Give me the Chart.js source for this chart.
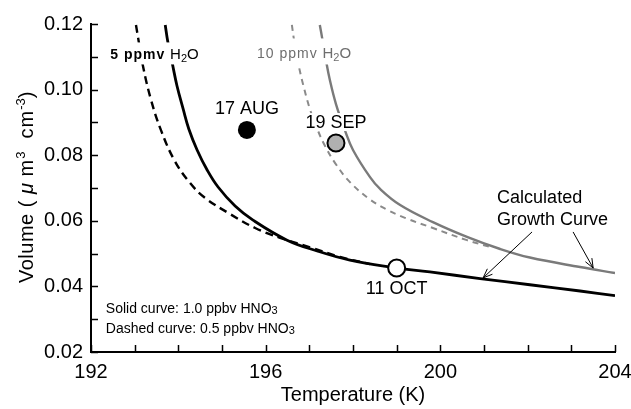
<!DOCTYPE html>
<html>
<head>
<meta charset="utf-8">
<script src="https://cdn.jsdelivr.net/npm/chart.js@4.4.0/dist/chart.umd.min.js"></script>
<style>
  html, body { margin: 0; padding: 0; background: #fff; }
  #wrap { position: relative; width: 631px; height: 409px; }
</style>
</head>
<body>
<div id="wrap"><canvas id="myChart"></canvas></div>
<script>
/* global Chart */

const FONT = 'Arial, "Liberation Sans", Helvetica, sans-serif';

// 5 ppmv H2O, 1.0 ppbv HNO3 (solid black)
const temp5Solid = [193.70, 193.76, 193.86, 193.97, 194.11, 194.24, 194.43, 194.66, 194.91, 195.30, 195.71, 196.49, 197.18, 197.93, 198.85, 199.76, 200.91, 202.05, 203.20, 204.00];
const vol5Solid = [0.1197, 0.1145, 0.1081, 0.1011, 0.0941, 0.0880, 0.0816, 0.0755, 0.0703, 0.0645, 0.0602, 0.0541, 0.0508, 0.0480, 0.0459, 0.0444, 0.0424, 0.0405, 0.0386, 0.0372];

// 5 ppmv H2O, 0.5 ppbv HNO3 (dashed black)
const temp5Dashed = [193.03, 193.08, 193.19, 193.37, 193.60, 193.92, 194.27, 194.61, 195.18, 195.76, 196.33, 197.02, 197.70, 198.39];
const vol5Dashed = [0.1197, 0.1157, 0.1072, 0.0971, 0.0877, 0.0782, 0.0715, 0.0670, 0.0621, 0.0578, 0.0548, 0.0519, 0.0490, 0.0468];

// 10 ppmv H2O, 1.0 ppbv HNO3 (solid gray)
const temp10Solid = [197.24, 197.29, 197.38, 197.47, 197.61, 197.82, 198.00, 198.39, 198.62, 199.08, 199.83, 200.61, 201.37, 202.05, 203.20, 204.00];
const vol10Solid = [0.1197, 0.1160, 0.1090, 0.1029, 0.0956, 0.0874, 0.0816, 0.0733, 0.0697, 0.0648, 0.0596, 0.0551, 0.0514, 0.0488, 0.0459, 0.0441];

// 10 ppmv H2O, 0.5 ppbv HNO3 (dashed gray)
const temp10Dashed = [196.60, 196.65, 196.74, 196.86, 197.02, 197.20, 197.36, 197.59, 197.93, 198.39, 198.78, 199.19, 199.83, 200.61, 201.14];
const vol10Dashed = [0.1197, 0.1151, 0.1084, 0.1014, 0.0938, 0.0874, 0.0828, 0.0776, 0.0718, 0.0665, 0.0634, 0.0609, 0.0578, 0.0541, 0.0520];

// observations
const obsLabels = ['17 AUG', '19 SEP', '11 OCT'];
const obsTemp = [195.57, 197.61, 199.00];
const obsVol = [0.0877, 0.0837, 0.0456];

const xTickLabels = [192, 196, 200, 204];
const yTickLabels = [0.02, 0.04, 0.06, 0.08, 0.10, 0.12];

function toPoints(ts, vs) {
  return ts.map(function(t, i) { return {x: t, y: vs[i]}; });
}

function curve(ts, vs, color, width, dash) {
  return {
    data: toPoints(ts, vs),
    showLine: true,
    borderColor: color,
    borderWidth: width,
    borderDash: dash,
    pointRadius: 0,
    tension: 0.4,
    fill: false
  };
}

/* annotations drawn on top of the data */

function drawParts(ctx, parts, x, y, color, box) {
  let w = 0;
  parts.forEach(function(p) {
    ctx.font = p.font;
    ctx.letterSpacing = p.ls || '0px';
    w += ctx.measureText(p.text).width;
  });
  if (box) {
    ctx.fillStyle = '#fff';
    ctx.fillRect(x - 3, y - box[0], w + 6, box[0] + box[1]);
  }
  ctx.fillStyle = color;
  ctx.textAlign = 'left';
  ctx.textBaseline = 'alphabetic';
  parts.forEach(function(p) {
    ctx.font = p.font;
    ctx.letterSpacing = p.ls || '0px';
    ctx.fillText(p.text, x, y + (p.dy || 0));
    x += ctx.measureText(p.text).width;
  });
  ctx.letterSpacing = '0px';
}

function arrow(ctx, x0, y0, x1, y1) {
  const a = Math.atan2(y1 - y0, x1 - x0);
  const len = 10, spread = 0.38;
  ctx.beginPath();
  ctx.moveTo(x0, y0);
  ctx.lineTo(x1, y1);
  ctx.moveTo(x1 - len * Math.cos(a - spread), y1 - len * Math.sin(a - spread));
  ctx.lineTo(x1, y1);
  ctx.lineTo(x1 - len * Math.cos(a + spread), y1 - len * Math.sin(a + spread));
  ctx.stroke();
}

const annotate = {
  id: 'annotate',
  afterDatasetsDraw(chart) {
    const {ctx, chartArea, scales: {x, y}} = chart;
    ctx.save();

    // curve family labels
    drawParts(ctx, [
      {text: '5 ppmv ', font: 'bold 14px ' + FONT, ls: '1px'},
      {text: 'H', font: '15px ' + FONT},
      {text: '2', font: '11px ' + FONT, dy: 3},
      {text: 'O', font: '15px ' + FONT}
    ], x.getPixelForValue(192.44), y.getPixelForValue(0.1092), '#000', [17, 5]);
    drawParts(ctx, [
      {text: '10 ppmv ', font: '14px ' + FONT, ls: '1px'},
      {text: 'H', font: '15px ' + FONT},
      {text: '2', font: '11px ' + FONT, dy: 3},
      {text: 'O', font: '15px ' + FONT}
    ], x.getPixelForValue(195.80), y.getPixelForValue(0.1095), '#6e6e6e', [20, 6]);

    // observation labels
    ctx.font = '18px ' + FONT;
    ctx.textAlign = 'center';
    ctx.textBaseline = 'middle';
    const offsets = [-22, -21, 20];
    obsLabels.forEach(function(lbl, i) {
      const px = x.getPixelForValue(obsTemp[i]);
      const py = y.getPixelForValue(obsVol[i]) + offsets[i];
      const w = ctx.measureText(lbl).width;
      ctx.fillStyle = '#fff';
      ctx.fillRect(px - w / 2 - 2, py - 9, w + 4, 18);
      ctx.fillStyle = '#000';
      ctx.fillText(lbl, px, py + 1);
    });

    // calculated growth curve note
    ctx.textAlign = 'left';
    ctx.fillText('Calculated', x.getPixelForValue(201.30), y.getPixelForValue(0.0670));
    ctx.fillText('Growth Curve', x.getPixelForValue(201.30), y.getPixelForValue(0.0602));
    ctx.strokeStyle = '#000';
    ctx.lineWidth = 1;
    arrow(ctx, x.getPixelForValue(202.10), y.getPixelForValue(0.0566), x.getPixelForValue(200.98), y.getPixelForValue(0.0426));
    arrow(ctx, x.getPixelForValue(203.04), y.getPixelForValue(0.0566), x.getPixelForValue(203.50), y.getPixelForValue(0.0456));

    // key for line styles
    const kx = x.getPixelForValue(192.34);
    drawParts(ctx, [
      {text: 'Solid curve: 1.0 ppbv HNO', font: '14px ' + FONT},
      {text: '3', font: '11px ' + FONT, dy: 1}
    ], kx, y.getPixelForValue(0.0334) + 5, '#000');
    drawParts(ctx, [
      {text: 'Dashed curve: 0.5 ppbv HNO', font: '14px ' + FONT},
      {text: '3', font: '11px ' + FONT, dy: 1}
    ], kx, y.getPixelForValue(0.0273) + 5, '#000');

    // inward tick marks
    ctx.strokeStyle = '#000';
    ctx.lineWidth = 1.5;
    ctx.beginPath();
    x.ticks.forEach(function(t) {
      const px = Math.round(x.getPixelForValue(t.value)) + 0.5;
      ctx.moveTo(px, chartArea.bottom);
      ctx.lineTo(px, chartArea.bottom - 7);
    });
    y.ticks.forEach(function(t) {
      const py = Math.round(y.getPixelForValue(t.value)) + 0.5;
      ctx.moveTo(chartArea.left, py);
      ctx.lineTo(chartArea.left + 7, py);
    });
    ctx.stroke();

    // axis titles
    ctx.fillStyle = '#000';
    ctx.font = '20px ' + FONT;
    ctx.textAlign = 'center';
    ctx.textBaseline = 'alphabetic';
    ctx.fillText('Temperature (K)', (chartArea.left + chartArea.right) / 2, 401);

    ctx.translate(33, 283);
    ctx.rotate(-Math.PI / 2);
    drawParts(ctx, [
      {text: 'Volume ( ', font: '20px ' + FONT, ls: '0.5px'},
      {text: 'μ', font: 'italic 20px ' + FONT},
      {text: ' m', font: '20px ' + FONT, ls: '1px'},
      {text: '3', font: '13px ' + FONT, dy: -8},
      {text: '  cm', font: '20px ' + FONT, ls: '1px'},
      {text: '-3', font: '13px ' + FONT, dy: -8},
      {text: ')', font: '20px ' + FONT}
    ], 0, 0, '#000');

    ctx.restore();
  }
};

const ctx = document.getElementById('myChart').getContext('2d');

const chart = new Chart(ctx, {
  type: 'scatter',
  data: {
    datasets: [
      {
        data: toPoints(obsTemp, obsVol),
        pointRadius: [9, 8.5, 8.5],
        pointBackgroundColor: ['#000', '#b0b0b0', '#fff'],
        pointBorderColor: '#000',
        pointBorderWidth: [0, 2, 2],
        showLine: false
      },
      curve(temp5Solid, vol5Solid, '#000', 2.8, []),
      curve(temp5Dashed, vol5Dashed, '#000', 2.4, [8, 5]),
      curve(temp10Solid, vol10Solid, '#7a7a7a', 2.4, []),
      curve(temp10Dashed, vol10Dashed, '#8a8a8a', 2, [6, 5])
    ]
  },
  options: {
    responsive: true,
    maintainAspectRatio: false,
    animation: false,
    events: [],
    layout: { padding: { top: 24, right: 16, bottom: 0, left: 0 } },
    plugins: {
      legend: { display: false },
      tooltip: { enabled: false }
    },
    scales: {
      x: {
        type: 'linear',
        min: 192,
        max: 204,
        afterFit: function(scale) {
          scale.height = 57;
          scale.paddingLeft = 0;
          scale.paddingRight = 0;
        },
        grid: { display: true, drawOnChartArea: false, drawTicks: false },
        border: { display: true, color: '#000', width: 2 },
        ticks: {
          stepSize: 1,
          autoSkip: false,
          maxRotation: 0,
          padding: 8,
          color: '#000',
          font: { family: FONT, size: 20 },
          callback: function(v) { return xTickLabels.indexOf(v) >= 0 ? String(v) : ''; }
        }
      },
      y: {
        type: 'linear',
        min: 0.02,
        max: 0.12,
        afterFit: function(scale) { scale.width = 91; },
        grid: { display: true, drawOnChartArea: false, drawTicks: false },
        border: { display: true, color: '#000', width: 2 },
        ticks: {
          stepSize: 0.01,
          autoSkip: false,
          padding: 8,
          color: '#000',
          font: { family: FONT, size: 20 },
          callback: function(v) {
            return yTickLabels.some(function(t) { return Math.abs(t - v) < 1e-9; }) ? v.toFixed(2) : '';
          }
        }
      }
    }
  },
  plugins: [annotate]
});
</script>
</body>
</html>
